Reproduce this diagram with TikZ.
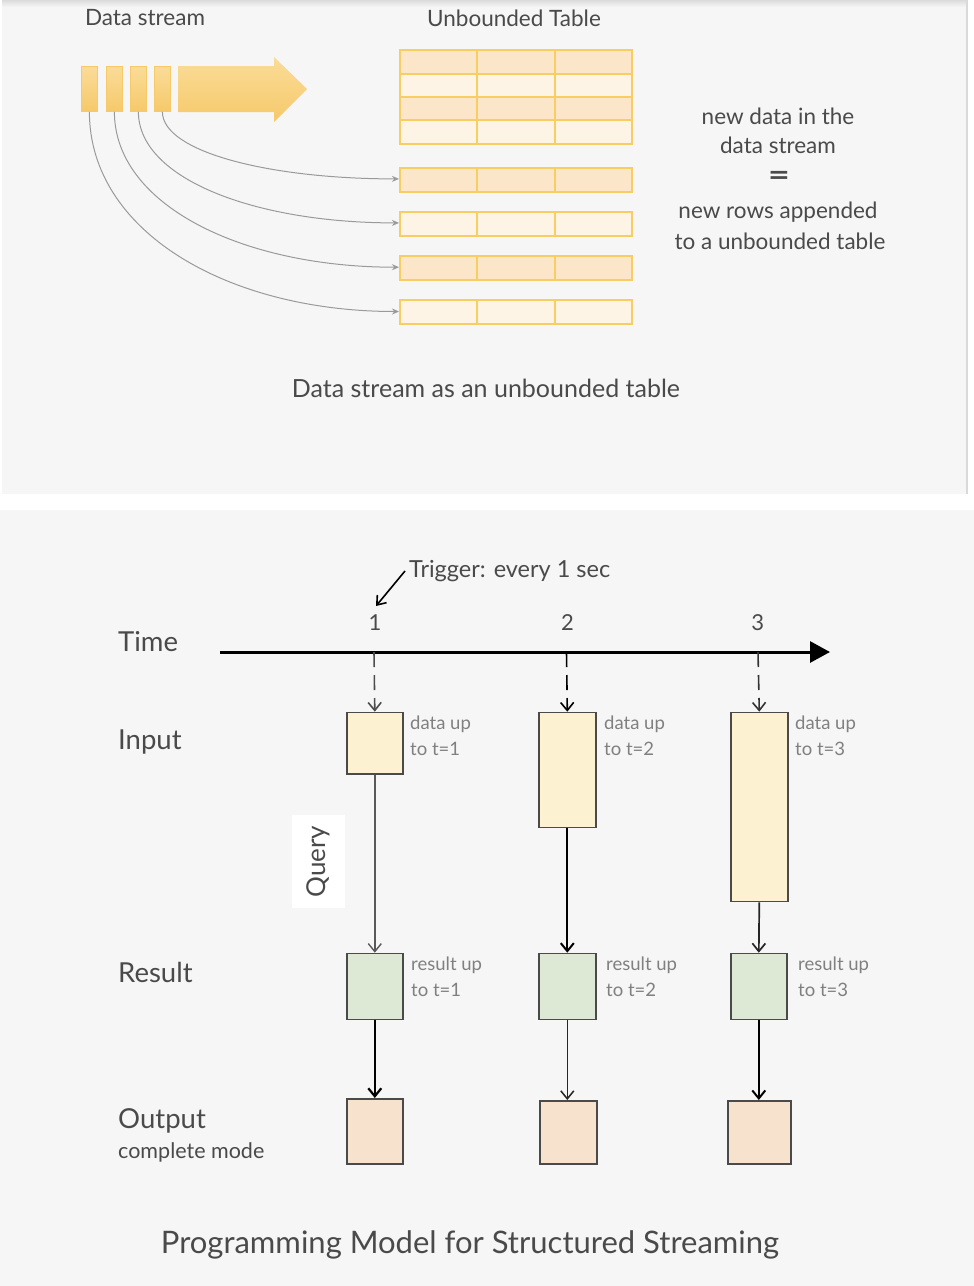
\documentclass[tikz,border=0pt]{standalone}
\usepackage{fontspec}
\setmainfont{Lato}
\usetikzlibrary{arrows.meta}
\definecolor{panel}{HTML}{F6F6F6}
\definecolor{gold}{HTML}{F8CD62}
\definecolor{goldA}{HTML}{FADC98}
\definecolor{goldB}{HTML}{F6C96A}
\definecolor{rowD}{HTML}{FCE6CA}
\definecolor{rowL}{HTML}{FDF4E6}
\definecolor{txt}{HTML}{4A4A4A}
\definecolor{lbl}{HTML}{808080}
\definecolor{inF}{HTML}{FCF1D1}
\definecolor{resF}{HTML}{DDE8D5}
\definecolor{outF}{HTML}{F7E3CD}
\definecolor{edge}{HTML}{4A4A4A}
\definecolor{curveC}{HTML}{9A9A9A}
\newcommand{\fs}[1]{\fontsize{#1}{#1}\selectfont}
\begin{document}
\begin{tikzpicture}[x=1pt,y=-1pt,
  blk/.style={anchor=north west,inner sep=0pt,minimum width=16pt,minimum height=45pt,
    top color=goldA,bottom color=goldB,draw=goldB,line width=0.8pt},
  cellD/.style={anchor=north west,inner sep=0pt,minimum width=77.3pt,minimum height=#1,
    fill=rowD,draw=gold,line width=2pt},
  cellL/.style={anchor=north west,inner sep=0pt,minimum width=77.3pt,minimum height=#1,
    fill=rowL,draw=gold,line width=2pt},
  rowbox/.style={anchor=north west,inner sep=0pt,minimum width=232pt,minimum height=24pt},
  curve/.style={draw=curveC,line width=1pt,-{Stealth[length=7pt,width=6pt]}},
  txtS/.style={text=txt,inner sep=0pt},
  inbox/.style={draw=edge,line width=1.6pt,fill=inF,inner sep=0pt,anchor=north west},
  resbox/.style={draw=edge,line width=1.6pt,fill=resF,inner sep=0pt,anchor=north west},
  outbox/.style={draw=edge,line width=1.6pt,fill=outF,inner sep=0pt,anchor=north west},
  side/.style={text=lbl,inner sep=0pt,anchor=north west,align=left,font=\fontsize{18.5}{25.5}\selectfont},
  dasharr/.style={line width=1.6pt,dash pattern=on 15pt off 8pt,-{Straight Barb[length=8pt,width=13pt]}},
  vline/.style={line width=#1,-{Straight Barb[length=8pt,width=13pt]}},
]
\useasboundingbox (0,0) rectangle (974,1286);
\fill[white] (0,0) rectangle (974,1286);
% panels
\fill[panel] (2,0) rectangle (967,494);
\shade[top color=black!14,bottom color=panel] (2,0) rectangle (967,7);
\draw[black!15,line width=1.5pt] (967,0) -- (967,494);
\fill[panel] (0,510) rectangle (974,1286);

% ---------- top panel ----------
\node[txtS,font=\fs{22.5}] (ds) at (145,18) {Data stream};
\node[txtS,font=\fs{22.5}] (ut) at (514,18) {Unbounded Table};

\node[blk] (b1) at (81,66) {};
\node[blk] (b2) at (106,66) {};
\node[blk] (b3) at (130,66) {};
\node[blk] (b4) at (154,66) {};
\shade[top color=goldA,bottom color=goldB]
  (178,66) -- (274,66) -- (274,57) -- (307,89) -- (274,122) -- (274,112) -- (178,112) -- cycle;

% unbounded table
\foreach \y/\h/\s [count=\i] in {49/23.7/cellD,72.7/23.3/cellL,96/23/cellD,119/24.3/cellL}{
  \node[\s=\h pt] (t\i a) at (399,\y) {};
  \node[\s=\h pt] (t\i b) at (476.3,\y) {};
  \node[\s=\h pt] (t\i c) at (553.6,\y) {};
}
% new rows
\foreach \y/\s [count=\i] in {166.7/cellD,210.7/cellL,255/cellD,299.3/cellL}{
  \node[\s=24pt] (n\i a) at (399,\y) {};
  \node[\s=24pt] (n\i b) at (476.3,\y) {};
  \node[\s=24pt] (n\i c) at (553.6,\y) {};
  \node[rowbox] (r\i) at (399,\y) {};
}
\draw[curve] (b4.south) .. controls +(0,40) and +(-130,0) .. (r1.west);
\draw[curve] (b3.south) .. controls +(0,67) and +(-144,0) .. (r2.west);
\draw[curve] (b2.south) .. controls +(0,93) and +(-157,0) .. (r3.west);
\draw[curve] (b1.south) .. controls +(0,120) and +(-171,0) .. (r4.west);

\node[txtS,font=\fs{22.5}] (e1) at (778,116) {new data in the};
\node[txtS,font=\fs{22.5}] (e2) at (778,145) {data stream};
\node[txtS,font=\fs{30}\bfseries,xscale=1.25] (e3) at (779,178) {=};
\node[txtS,font=\fs{22.5}] (e4) at (778,212) {new rows appended};
\node[txtS,font=\fs{22.5}] (e5) at (780,241) {to a unbounded table};

\node[txtS,font=\fs{25}] (cap1) at (486,388) {Data stream as an unbounded table};

% ---------- bottom panel ----------
\coordinate (tA) at (220,652);
\coordinate (tB) at (830,652);
\draw[line width=3pt,-{Triangle[length=20pt,width=21pt]}] (tA) -- (tB);
\coordinate (k1) at (374,652);
\coordinate (k2) at (566.5,652);
\coordinate (k3) at (758,652);

\node[txtS,font=\fs{27.5},anchor=west] (lt) at (118,642) {Time};
\node[txtS,font=\fs{27.5},anchor=west] (li) at (118,742) {Input};
\node[txtS,font=\fs{27.5},anchor=west] (lr) at (118,972) {Result};
\node[txtS,font=\fs{27.5},anchor=west] (lo) at (118,1121) {Output};
\node[txtS,font=\fs{21.5},anchor=west] (lc) at (118,1152) {complete mode};

\node[txtS,font=\fs{22}] (n1) at (375,623) {1};
\node[txtS,font=\fs{22}] (n2) at (567.5,623) {2};
\node[txtS,font=\fs{22}] (n3) at (757.7,623) {3};

\node[txtS,font=\fs{23.5},anchor=west] (trig) at (409,571) {Trigger: every 1 sec};
\coordinate (trigEnd) at (376,606);
\draw[line width=1.6pt,-{Straight Barb[length=8pt,width=12pt]}] ([xshift=-4pt]trig.west) -- (trigEnd);

% input boxes
\node[inbox,minimum width=56pt,minimum height=61.6pt] (in1) at (346,711.7) {};
\node[inbox,minimum width=57pt,minimum height=115pt] (in2) at (538,711.7) {};
\node[inbox,minimum width=57pt,minimum height=189pt] (in3) at (730,711.7) {};
% result boxes
\node[resbox,minimum width=56pt,minimum height=66pt] (rs1) at (346,952.7) {};
\node[resbox,minimum width=57pt,minimum height=66pt] (rs2) at (538,952.7) {};
\node[resbox,minimum width=56pt,minimum height=66pt] (rs3) at (730,952.7) {};
% output boxes
\node[outbox,minimum width=56pt,minimum height=65pt] (o1) at (346,1098) {};
\node[outbox,minimum width=57pt,minimum height=63pt] (o2) at (539,1100) {};
\node[outbox,minimum width=63pt,minimum height=63pt] (o3) at (727,1100) {};

% query label
\node[fill=white,minimum width=53.5pt,minimum height=93pt,inner sep=0pt,anchor=north west] (qb) at (291.5,815) {};
\node[txtS,font=\fs{26},rotate=90] (q) at (qb.center) {Query};

% dashed triggers
\draw[dasharr,black!70] (k1) -- (in1.north);
\draw[dasharr] (k2) -- (in2.north);
\draw[dasharr,black!80] (k3) -- (in3.north);

% input -> result
\draw[vline=1.4pt,black!65] (in1.south) -- (rs1.north);
\draw[vline=2pt] (in2.south) -- (rs2.north);
\draw[vline=1.7pt,black!85] (in3.south) -- (rs3.north);
% result -> output
\draw[vline=2.2pt] (rs1.south) -- (rs1.south |- o1.north);
\draw[vline=1.5pt,black!85] (rs2.south) -- (rs2.south |- o2.north);
\draw[vline=2pt] (rs3.south) -- (rs3.south |- o3.north);

% side labels
\node[side] (d1) at (410,716) {data up\\to t=1};
\node[side] (d2) at (604,716) {data up\\to t=2};
\node[side] (d3) at (795,716) {data up\\to t=3};
\node[side] (s1) at (411,957) {result up\\to t=1};
\node[side] (s2) at (606,957) {result up\\to t=2};
\node[side] (s3) at (798,957) {result up\\to t=3};

\node[txtS,font=\fs{31}] (title) at (470,1245) {Programming Model for Structured Streaming};
\end{tikzpicture}
\end{document}
